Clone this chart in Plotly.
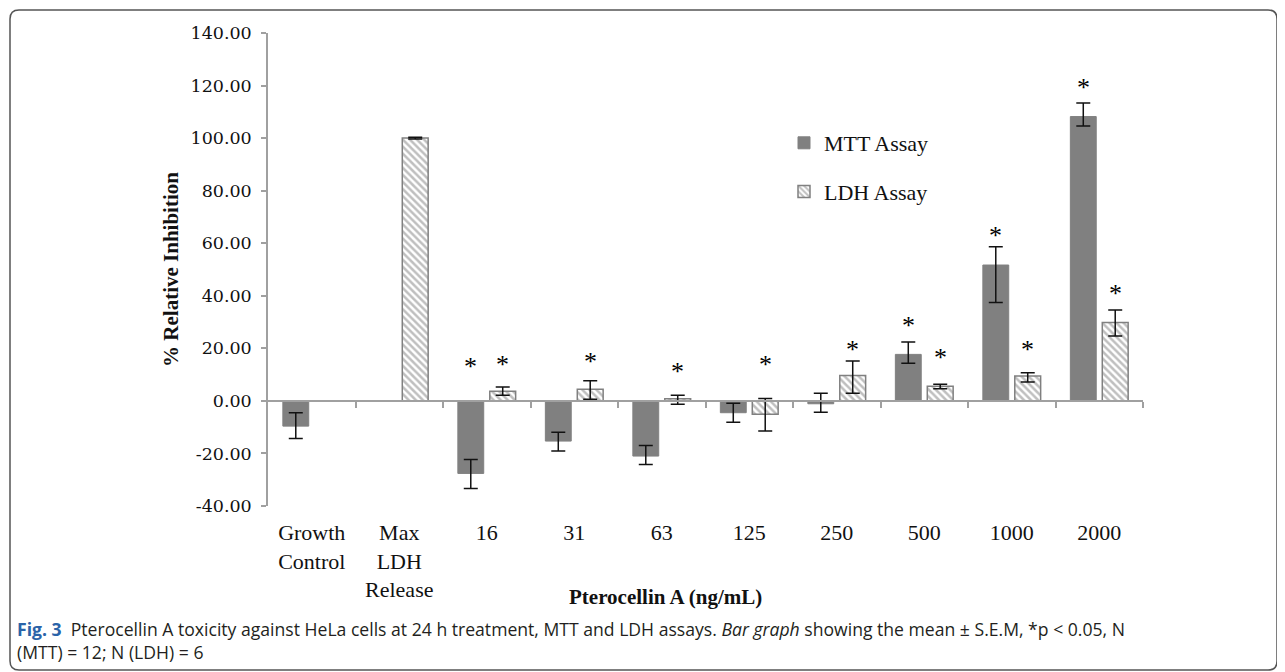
import plotly.graph_objects as go

categories = ["Growth<br>Control", "Max<br>LDH<br>Release", "16", "31", "63", "125", "250", "500", "1000", "2000"]

mtt_values = [-9.6, None, -27.6, -15.3, -21.0, -4.5, -1.1, 17.7, 51.7, 108.2]
mtt_err_plus = [5.1, None, 5.3, 3.4, 4.0, 3.6, 4.0, 4.7, 7.0, 5.2]
mtt_err_minus = [4.7, None, 5.7, 3.8, 3.2, 3.6, 3.2, 3.4, 14.3, 3.6]

ldh_values = [None, 100.0, 3.7, 4.4, 0.8, -5.1, 9.7, 5.6, 9.5, 29.8]
ldh_err_plus = [None, 0.3, 1.6, 3.3, 1.3, 6.0, 5.5, 0.7, 1.2, 4.8]
ldh_err_minus = [None, 0.3, 1.6, 3.8, 2.1, 6.4, 6.8, 1.0, 2.3, 5.1]

# significance star positions (value axis)
mtt_star = [None, None, 14.5, None, None, None, None, 30.4, 64.4, 120.9]
ldh_star = [None, None, 15.4, 16.4, 12.6, 15.2, 21.2, 18.1, 21.2, 42.5]

y_ticks = [-40, -20, 0, 20, 40, 60, 80, 100, 120, 140]
y_ticktext = [f"{v:.2f}" for v in y_ticks]

GRAY = "#808080"
SERIF = "Liberation Serif, Times New Roman, serif"

xpos = list(range(len(categories)))

fig = go.Figure()
fig.add_trace(go.Bar(
    name="MTT Assay", x=xpos, y=mtt_values, legendgroup="a",
    marker=dict(color=GRAY, line=dict(color=GRAY, width=1)),
    error_y=dict(type="data", symmetric=False, array=mtt_err_plus, arrayminus=mtt_err_minus,
                 color="#111111", thickness=1.5, width=7),
))
fig.add_trace(go.Bar(
    name="LDH Assay", x=xpos, y=ldh_values, legendgroup="b",
    marker=dict(color="white", line=dict(color=GRAY, width=1.5),
                pattern=dict(shape="\\", fgcolor=GRAY, bgcolor="white", size=5, solidity=0.5)),
    error_y=dict(type="data", symmetric=False, array=ldh_err_plus, arrayminus=ldh_err_minus,
                 color="#111111", thickness=1.5, width=7),
))

annotations = []
star_font = dict(family=SERIF, size=26, color="#000000")
for xi, s in zip(xpos, mtt_star):
    if s is not None:
        annotations.append(dict(x=xi, y=s, xref="x", yref="y", text="*", showarrow=False,
                                xshift=-16, yshift=-4, yanchor="middle", font=star_font))
for xi, s in zip(xpos, ldh_star):
    if s is not None:
        annotations.append(dict(x=xi, y=s, xref="x", yref="y", text="*", showarrow=False,
                                xshift=16, yshift=-4, yanchor="middle", font=star_font))

# layout geometry (pixels, reference coordinates; page has an 8px body margin)
OFF = 8
W, H = 1285 - OFF, 672 - OFF
L, R, T, B = 268 - OFF, 1143 - OFF, 33 - OFF, 506 - OFF
def px(x):
    return (x - OFF - L) / (R - L)
def py(y):
    return (B - (y - OFF)) / (B - T)

# caption
cap_font = dict(family="Open Sans, sans-serif", size=17.6, color="#231f20")
annotations.append(dict(
    xref="paper", yref="paper", x=px(15), y=py(629), xanchor="left", yanchor="middle",
    showarrow=False, align="left",
    text="<span style='color:#2a63a8'><b>Fig. 3</b></span>  Pterocellin A toxicity against HeLa cells at 24 h treatment, MTT and LDH assays. <i>Bar graph</i> showing the mean ± S.E.M, *p &lt; 0.05, N",
    font=cap_font))
annotations.append(dict(
    xref="paper", yref="paper", x=px(15), y=py(652), xanchor="left", yanchor="middle",
    showarrow=False, align="left",
    text="(MTT) = 12; N (LDH) = 6",
    font=cap_font))
# x-axis title
annotations.append(dict(
    xref="paper", yref="paper", x=px(665), y=py(597), xanchor="center", yanchor="middle",
    showarrow=False, text="<b>Pterocellin A (ng/mL)</b>",
    font=dict(family=SERIF, size=21, color="#111")))

# rounded frame
x0, x1, y0, y1, r = 10, 1277, 10, 670, 9
def P(x, y):
    return f"{px(x):.5f},{py(y):.5f}"
frame_path = (f"M{P(x0 + r, y0)} L{P(x1 - r, y0)} Q{P(x1, y0)} {P(x1, y0 + r)} "
              f"L{P(x1, y1 - r)} Q{P(x1, y1)} {P(x1 - r, y1)} L{P(x0 + r, y1)} "
              f"Q{P(x0, y1)} {P(x0, y1 - r)} L{P(x0, y0 + r)} Q{P(x0, y0)} {P(x0 + r, y0)} Z")

fig.update_layout(
    width=W, height=H,
    margin=dict(l=L, r=W - R, t=T, b=H - B, autoexpand=False),
    paper_bgcolor="white", plot_bgcolor="white",
    barmode="group", bargap=0.27, bargroupgap=0.19,
    showlegend=True,
    legend=dict(x=px(784), y=py(122), xanchor="left", yanchor="top",
                font=dict(family=SERIF, size=22, color="#111"),
                tracegroupgap=17, bgcolor="rgba(0,0,0,0)"),
    annotations=annotations,
    shapes=[dict(type="path", xref="paper", yref="paper", path=frame_path,
                 line=dict(color="#555555", width=1.5))],
    xaxis=dict(range=[-0.5, len(categories) - 0.5], tickvals=xpos, ticktext=categories,
               showline=False, ticks="", showgrid=False, zeroline=False,
               tickfont=dict(family=SERIF, size=22, color="#111"), ticklabelstandoff=11),
    xaxis2=dict(overlaying="x", anchor="free", position=(0 - (-40)) / 180,
                range=[-0.5, len(categories) - 0.5],
                showline=True, linecolor="#a0a0a0", linewidth=1.5,
                ticks="outside", ticklen=6, tickcolor="#a0a0a0", tickwidth=1.5,
                tickvals=[i + 0.5 for i in xpos], showticklabels=False,
                showgrid=False, zeroline=False),
    yaxis=dict(range=[-40, 140], tickvals=y_ticks, ticktext=y_ticktext,
               showline=True, linecolor="#a0a0a0", linewidth=1.5,
               ticks="outside", ticklen=5, tickcolor="#a0a0a0", tickwidth=1.5,
               showgrid=False, zeroline=False,
               tickfont=dict(family="DejaVu Serif, serif", size=17.5, color="#111"),
               ticklabelstandoff=6,
               title=dict(text="<b>% Relative Inhibition</b>", standoff=6,
                          font=dict(family=SERIF, size=21, color="#111"))),
)
# invisible trace to activate xaxis2
fig.add_trace(go.Scatter(x=[0], y=[0], xaxis="x2", mode="markers", marker=dict(opacity=0),
                         showlegend=False, hoverinfo="skip"))

fig.write_html("out.html")
